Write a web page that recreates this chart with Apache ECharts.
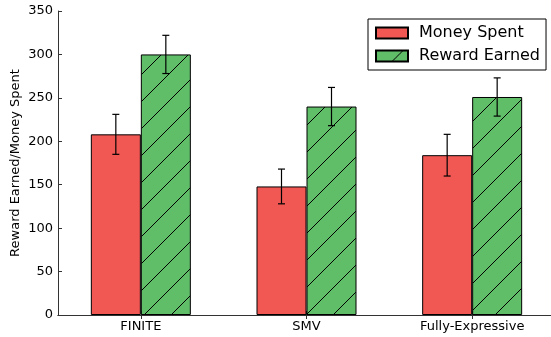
<!DOCTYPE html>
<html>
<head>
<meta charset="utf-8">
<script src="https://cdn.jsdelivr.net/npm/echarts@6/dist/echarts.min.js"></script>
<style>
  html, body { margin: 0; padding: 0; background: #fff; }
  #chart { width: 551px; height: 337px; }
</style>
</head>
<body>
<div id="chart"></div>
<script>
// Data
const categories = ['FINITE', 'SMV', 'Fully-Expressive'];
const moneySpent = [208, 148, 184];
const moneySpentErr = [23, 20, 24];
const rewardEarned = [300, 240, 251];
const rewardEarnedErr = [22, 22, 22];
const yTicks = [0, 50, 100, 150, 200, 250, 300, 350];

const RED = '#F15854';
const GREEN = '#60BD68';
const FONT = 'DejaVu Sans';
const BAR_W = 50;
const AXIS_COLOR = '#333';

// Diagonal hatch tile for the green bars
function hatchTile() {
  const s = 27;
  const c = document.createElement('canvas');
  c.width = s; c.height = s;
  const g = c.getContext('2d');
  g.fillStyle = GREEN;
  g.fillRect(0, 0, s, s);
  g.strokeStyle = '#000';
  g.lineWidth = 1;
  g.beginPath();
  [0, s, 2 * s].forEach(k => {
    g.moveTo(-2, k + 2);
    g.lineTo(s + 2, k - s - 2);
  });
  g.stroke();
  return c;
}

function errData(vals, errs) {
  return vals.map((v, i) => [i, v - errs[i], v + errs[i]]);
}

function errRenderer(offset) {
  return function (params, api) {
    const lo = api.coord([api.value(0), api.value(1)]);
    const hi = api.coord([api.value(0), api.value(2)]);
    const x = lo[0] + offset;
    const cap = 3.5;
    const st = { stroke: '#000', lineWidth: 1.2 };
    return {
      type: 'group',
      children: [
        { type: 'line', shape: { x1: x, y1: lo[1], x2: x, y2: hi[1] }, style: st },
        { type: 'line', shape: { x1: x - cap, y1: lo[1], x2: x + cap, y2: lo[1] }, style: st },
        { type: 'line', shape: { x1: x - cap, y1: hi[1], x2: x + cap, y2: hi[1] }, style: st }
      ]
    };
  };
}

const chart = echarts.init(document.getElementById('chart'), null, { renderer: 'canvas' });

const tickStyle = { show: true, inside: true, length: 4, lineStyle: { color: AXIS_COLOR, width: 1 } };

chart.setOption({
  animation: false,
  backgroundColor: '#fff',
  textStyle: { fontFamily: FONT },
  grid: { left: 58, top: 11, width: 497, bottom: 22, containLabel: false, outerBoundsMode: 'none' },
  legend: {
    orient: 'vertical',
    left: 368,
    top: 19,
    padding: [6, 6, 6, 7],
    itemGap: 7,
    itemWidth: 32,
    itemHeight: 11,
    backgroundColor: '#fff',
    borderColor: '#000',
    borderWidth: 1,
    borderRadius: 0,
    icon: 'rect',
    textStyle: { fontFamily: FONT, fontSize: 16, color: '#000', padding: [0, 0, 0, 6] },
    data: ['Money Spent', 'Reward Earned']
  },
  xAxis: [
    {
      type: 'category',
      data: categories,
      position: 'bottom',
      axisLine: { show: true, lineStyle: { color: AXIS_COLOR, width: 1 } },
      axisTick: Object.assign({ alignWithLabel: true }, tickStyle),
      axisLabel: { color: '#000', fontSize: 13, fontFamily: FONT, margin: 5 },
      splitLine: { show: false }
    },
    {
      type: 'category',
      data: categories,
      position: 'top',
      axisLine: { show: true, lineStyle: { color: AXIS_COLOR, width: 1 } },
      axisTick: Object.assign({ alignWithLabel: true }, tickStyle),
      axisLabel: { show: false },
      splitLine: { show: false }
    }
  ],
  yAxis: [
    {
      type: 'value',
      min: yTicks[0],
      max: yTicks[yTicks.length - 1],
      interval: 50,
      position: 'left',
      name: 'Reward Earned/Money Spent',
      nameLocation: 'middle',
      nameGap: 36,
      nameMoveOverlap: false,
      nameTextStyle: { fontFamily: FONT, fontSize: 13, color: '#000' },
      axisLine: { show: true, lineStyle: { color: AXIS_COLOR, width: 1 } },
      axisTick: tickStyle,
      axisLabel: { color: '#000', fontSize: 13, fontFamily: FONT, margin: 5 },
      splitLine: { show: false }
    },
    {
      type: 'value',
      min: yTicks[0],
      max: yTicks[yTicks.length - 1],
      interval: 50,
      position: 'right',
      axisLine: { show: true, lineStyle: { color: AXIS_COLOR, width: 1 } },
      axisTick: tickStyle,
      axisLabel: { show: false },
      splitLine: { show: false }
    }
  ],
  series: [
    {
      name: 'Money Spent',
      type: 'bar',
      data: moneySpent,
      barWidth: BAR_W,
      barGap: '0%',
      itemStyle: { color: RED, borderColor: '#000', borderWidth: 1 }
    },
    {
      name: 'Reward Earned',
      type: 'bar',
      data: rewardEarned,
      barWidth: BAR_W,
      barGap: '0%',
      itemStyle: { color: { image: hatchTile(), repeat: 'repeat' }, borderColor: '#000', borderWidth: 1 }
    },
    {
      type: 'custom',
      renderItem: errRenderer(-BAR_W / 2),
      data: errData(moneySpent, moneySpentErr),
      encode: { x: 0, y: [1, 2] },
      z: 5,
      silent: true
    },
    {
      type: 'custom',
      renderItem: errRenderer(BAR_W / 2),
      data: errData(rewardEarned, rewardEarnedErr),
      encode: { x: 0, y: [1, 2] },
      z: 5,
      silent: true
    }
  ]
});
</script>
</body>
</html>
